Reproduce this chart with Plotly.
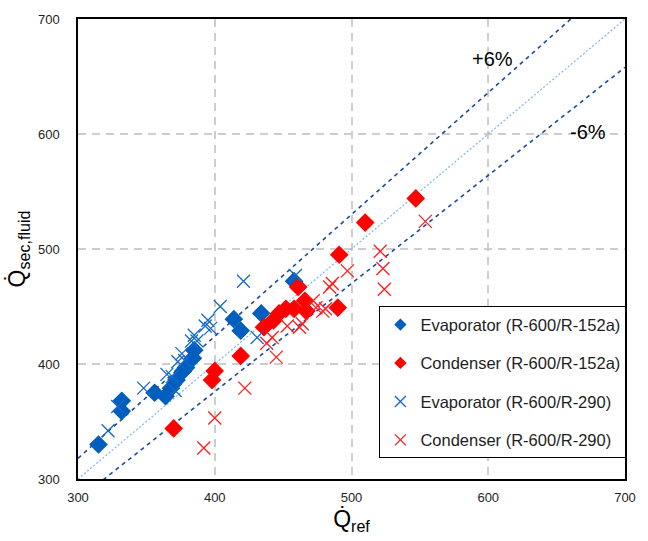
import plotly.graph_objects as go

# Evaporator (R-600/R-152a) - diamonds
evap152_x = [315, 332, 332, 356, 364, 368, 372, 377, 379, 384, 385, 414, 419, 434, 458]
evap152_y = [330, 359, 368, 375, 372, 379, 386, 394, 397, 405, 412, 439, 429, 444, 472]

# Condenser (R-600/R-152a) - diamonds
cond152_x = [370, 398, 400, 419, 436, 443, 447, 452, 458, 466, 467, 461, 490, 491, 510, 547]
cond152_y = [344, 386, 394, 407, 432, 438, 444, 448, 448, 455, 446, 467, 449, 495, 523, 544]

# Evaporator (R-600/R-290) - crosses
evap290_x = [322, 329, 348, 365, 369, 371, 373, 376, 378, 383, 385, 387, 393, 395, 397, 404, 421, 431, 459]
evap290_y = [342, 363, 379, 391, 389, 377, 402, 409, 403, 420, 425, 420, 433, 438, 431, 450, 472, 423, 477]

# Condenser (R-600/R-290) - crosses
cond290_x = [392, 400, 422, 438, 442, 445, 453, 462, 464, 472, 474, 479, 481, 484, 486, 497, 521, 523, 524, 554]
cond290_y = [327, 353, 379, 418, 423, 406, 433, 432, 435, 455, 449, 446, 448, 467, 470, 481, 498, 483, 465, 524]

series_names = ["Evaporator (R-600/R-152a)", "Condenser (R-600/R-152a)",
                "Evaporator (R-600/R-290)", "Condenser (R-600/R-290)"]

ref_x = [300, 700]
plus_factor = 1.06
minus_factor = 0.94

BLUE = "rgb(0,94,190)"
RED = "rgb(255,0,0)"
BLUE_X = "rgb(20,105,200)"
RED_X = "rgb(255,30,30)"
LINE_DARK = "rgb(25,75,155)"
LINE_LIGHT = "rgb(120,180,240)"

fig = go.Figure()

fig.add_trace(go.Scatter(x=ref_x, y=[v for v in ref_x], mode="lines",
                         line=dict(color=LINE_LIGHT, width=1.2, dash="2px,2px"),
                         showlegend=False, hoverinfo="skip"))
fig.add_trace(go.Scatter(x=ref_x, y=[v * plus_factor for v in ref_x], mode="lines",
                         line=dict(color=LINE_DARK, width=1.6, dash="4px,4px"),
                         showlegend=False, hoverinfo="skip"))
fig.add_trace(go.Scatter(x=ref_x, y=[v * minus_factor for v in ref_x], mode="lines",
                         line=dict(color=LINE_DARK, width=1.6, dash="4px,4px"),
                         showlegend=False, hoverinfo="skip"))

data_sets = [
    (evap152_x, evap152_y, "diamond", 13, BLUE, 8),
    (cond152_x, cond152_y, "diamond", 13, RED, 8),
    (evap290_x, evap290_y, "x-thin", 13, BLUE_X, 11),
    (cond290_x, cond290_y, "x-thin", 13, RED_X, 11),
]

for i, (xs, ys, sym, sz, col, lsz) in enumerate(data_sets):
    fig.add_trace(go.Scatter(x=xs, y=ys, mode="markers", name=series_names[i],
                             showlegend=False,
                             marker=dict(symbol=sym, size=sz, color=col,
                                         line=dict(color=col, width=1.3))))

# legend entries with smaller symbols as in the reference legend
for i, (xs, ys, sym, sz, col, lsz) in enumerate(data_sets):
    fig.add_trace(go.Scatter(x=[None], y=[None], mode="markers", name=series_names[i],
                             legendgroup=f"g{i}",
                             marker=dict(symbol=sym, size=lsz, color=col,
                                         line=dict(color=col, width=1.3))))

fig.add_annotation(x=603, y=665, text="+6%", showarrow=False,
                   font=dict(size=20, color="black", family="Liberation Sans"))
fig.add_annotation(x=673, y=602, text="-6%", showarrow=False,
                   font=dict(size=20, color="black", family="Liberation Sans"))

axis_common = dict(
    range=[300, 700],
    tickvals=[300, 400, 500, 600, 700],
    showgrid=True,
    gridcolor="rgb(205,205,205)",
    griddash="8px,6px",
    gridwidth=1.5,
    zeroline=False,
    showline=True,
    linecolor="black",
    linewidth=1.5,
    mirror=True,
    ticks="",
    tickfont=dict(size=13, color="rgb(30,30,30)", family="Liberation Sans Narrow, Liberation Sans"),
)

fig.update_layout(
    width=648, height=541,
    margin=dict(l=78, r=14, t=17, b=62),
    paper_bgcolor="white",
    plot_bgcolor="white",
    font=dict(family="Liberation Sans", color="black"),
    xaxis=dict(**axis_common, ticklabelstandoff=6,
               title=dict(text="Q\u0307<sub>ref</sub>", font=dict(size=23), standoff=6)),
    yaxis=dict(**axis_common, ticklabelstandoff=14,
               title=dict(text="Q\u0307<sub>sec,fluid</sub>", font=dict(size=23), standoff=6)),
    legend=dict(
        x=0.551, y=0.045, xanchor="left", yanchor="bottom",
        bgcolor="white", bordercolor="black", borderwidth=1,
        font=dict(size=16.5, family="Liberation Sans Narrow, Liberation Sans", color="rgb(30,30,30)"),
        tracegroupgap=14,
        itemsizing="trace",
    ),
    showlegend=True,
)

fig.write_html("out.html")
